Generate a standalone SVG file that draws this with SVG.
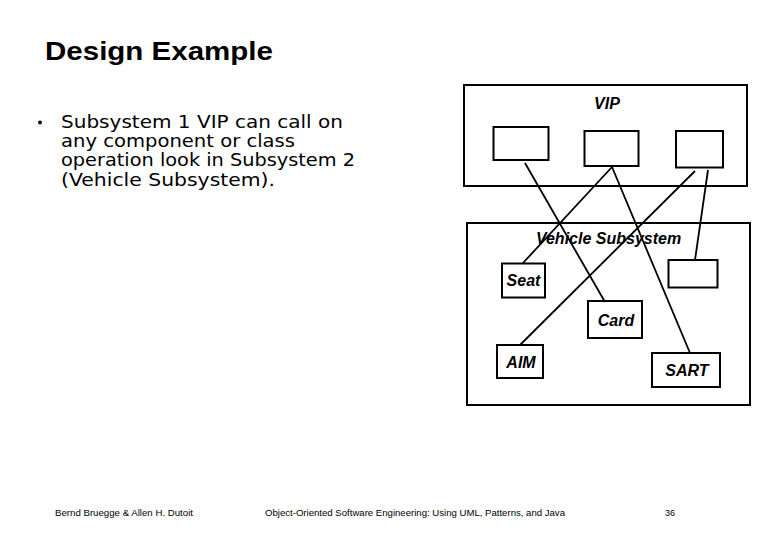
<svg xmlns="http://www.w3.org/2000/svg" width="780" height="540" viewBox="0 0 780 540">
<style>
.box{fill:none;stroke:#000;stroke-width:2}
.lbl{font-family:"Liberation Sans",Arial,sans-serif;font-weight:bold;font-style:italic;font-size:16px;fill:#000;text-anchor:middle}
.con line{stroke:#000;stroke-width:1.8}
.body{font-family:"DejaVu Sans",Verdana,sans-serif;font-size:17px;fill:#000}
.foot{font-family:"Liberation Sans",Arial,sans-serif;font-size:9px;fill:#000}
</style>
<rect width="780" height="540" fill="#fff"/>
<text x="45" y="60" font-family="Liberation Sans, Arial, sans-serif" font-weight="bold" font-size="25" textLength="228" lengthAdjust="spacingAndGlyphs">Design Example</text>
<g id="bullet">
<circle cx="40" cy="122.5" r="2" fill="#000"/>
<text class="body" x="61" y="128" textLength="282" lengthAdjust="spacingAndGlyphs">Subsystem 1 VIP can call on</text>
<text class="body" x="61" y="147" textLength="234" lengthAdjust="spacingAndGlyphs">any component or class</text>
<text class="body" x="61" y="166" textLength="294" lengthAdjust="spacingAndGlyphs">operation look in Subsystem 2</text>
<text class="body" x="61" y="185.5" textLength="214" lengthAdjust="spacingAndGlyphs">(Vehicle Subsystem).</text>
</g>
<g id="vip">
<rect class="box" x="464" y="85" width="283" height="101"/>
<text class="lbl" x="607" y="109">VIP</text>
</g>
<g id="vip1"><rect class="box" x="493.5" y="127" width="55" height="33"/></g>
<g id="vip2"><rect class="box" x="584.5" y="131" width="54" height="35"/></g>
<g id="vip3"><rect class="box" x="676" y="131" width="47" height="36.5"/></g>
<g id="vehicle">
<rect class="box" x="467" y="223" width="283" height="182"/>
<text class="lbl" x="608.5" y="243.5" font-size="18.5">Vehicle Subsystem</text>
</g>
<g id="seat"><rect class="box" x="502" y="263.5" width="43" height="34"/><text class="lbl" x="523.5" y="286">Seat</text></g>
<g id="card"><rect class="box" x="588" y="301" width="54" height="37"/><text class="lbl" x="616" y="326">Card</text></g>
<g id="aim"><rect class="box" x="497" y="345" width="46" height="33"/><text class="lbl" x="521" y="368">AIM</text></g>
<g id="sart"><rect class="box" x="652" y="353" width="68" height="34"/><text class="lbl" x="687" y="376">SART</text></g>
<g id="empty"><rect class="box" x="668.5" y="260" width="49" height="27.5"/></g>
<g class="con" id="connectors">
<line x1="525" y1="163" x2="605" y2="302"/>
<line x1="612" y1="167" x2="523" y2="263"/>
<line x1="612" y1="167" x2="690" y2="353"/>
<line x1="695" y1="171" x2="520" y2="345"/>
<line x1="708" y1="170" x2="695" y2="260"/>
</g>
<text class="foot" x="55" y="516" textLength="138" lengthAdjust="spacingAndGlyphs">Bernd Bruegge &amp; Allen H. Dutoit</text>
<text class="foot" x="265" y="516" textLength="300" lengthAdjust="spacingAndGlyphs">Object-Oriented Software Engineering: Using UML, Patterns, and Java</text>
<text class="foot" x="665" y="516">36</text>
</svg>
